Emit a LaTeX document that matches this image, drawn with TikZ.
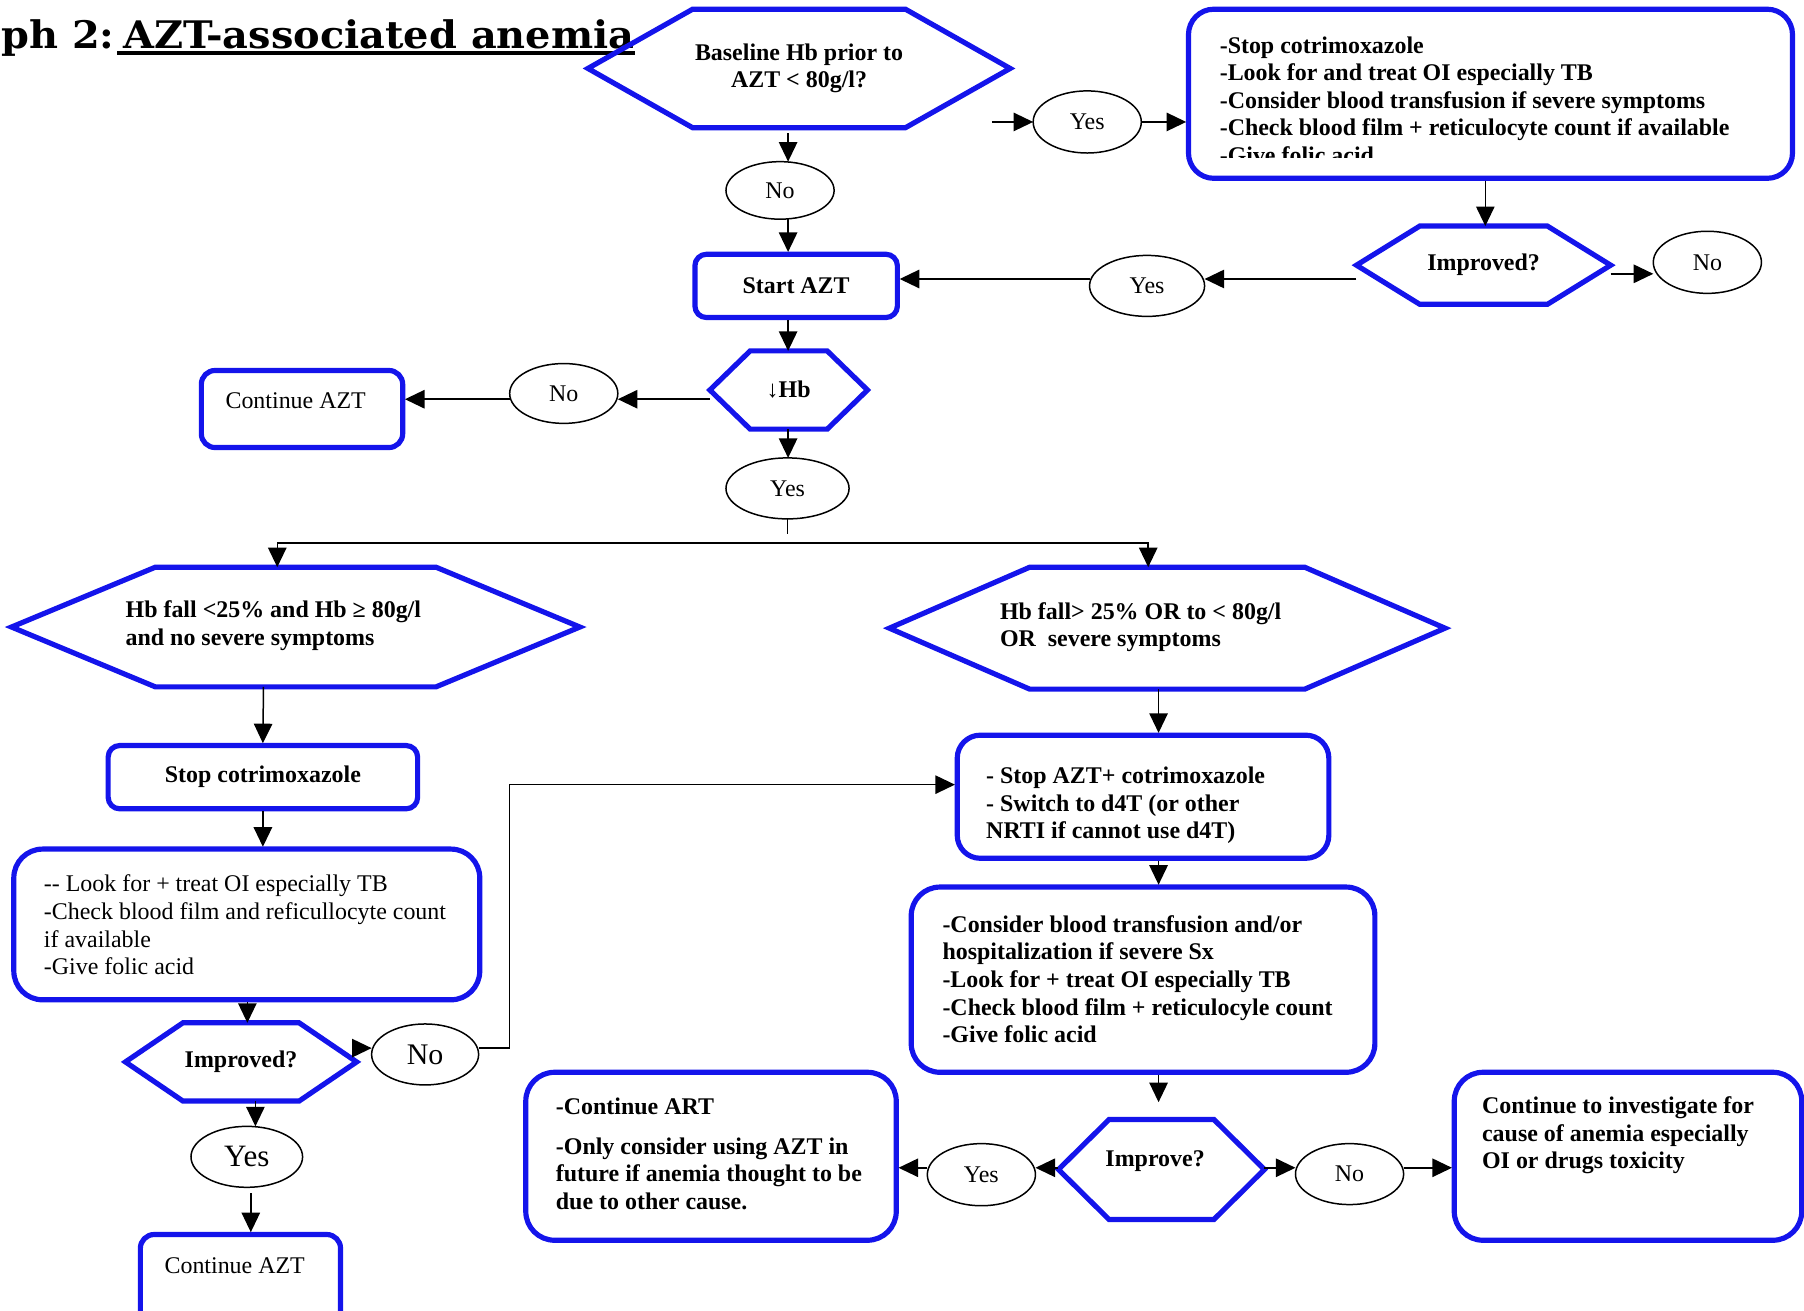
\documentclass[tikz,border=0pt]{standalone}
\usepackage{fontspec}
\setmainfont{Liberation Serif}
\newfontfamily\titlefont[FakeStretch=1.05]{DejaVu Serif}
\usetikzlibrary{arrows.meta,shapes.geometric}
\definecolor{bl}{RGB}{20,20,235}
\newcommand\hexdraw[2]{%
  \draw[hexline] (#1.west) -- ([xshift=#2pt]#1.north west) -- ([xshift=-#2pt]#1.north east) -- (#1.east) -- ([xshift=-#2pt]#1.south east) -- ([xshift=#2pt]#1.south west) -- cycle;}
\tikzset{
 hexline/.style={draw=bl, line width=4.5pt, line join=miter},
 hexnode/.style={shape=rectangle, draw=none, inner sep=0pt, outer sep=0pt, font=\fontsize{20.8}{24}\selectfont\bfseries, align=center},
 rbox/.style={shape=rectangle, draw=bl, line width=4.5pt, inner sep=0pt, outer sep=2pt},
 ell/.style={shape=ellipse, draw=black, line width=1.3pt, inner sep=0pt, outer sep=0pt, font=\fontsize{20.8}{24}\selectfont},
 btxt/.style={font=\fontsize{20.8}{24}\selectfont\bfseries, inner sep=0pt, align=left},
 rtxt/.style={font=\fontsize{20.8}{24}\selectfont, inner sep=0pt, align=left},
 arr/.style={draw=black, line width=1.3pt, -{Triangle[length=17pt,width=16pt]}},
 conn/.style={draw=black, line width=1.3pt},
 ttl/.style={font=\titlefont\fontsize{33}{38}\selectfont\bfseries, inner sep=0pt},
}
\begin{document}
\begin{tikzpicture}[x=1pt,y=-1pt]
\useasboundingbox (0,0) rectangle (1568,1139);
\clip (0,0) rectangle (1568,1139);
% title
\node[ttl, anchor=base west] (tA) at (1,42) {ph 2:};
\node[ttl, anchor=base west] (tB) at (107,42) {AZT-associated anemia};
\draw[line width=2.8pt] ([yshift=-4pt,xshift=2pt]tA.base east) -- ([yshift=-4pt]tB.base east);
% top hexagon
\node[hexnode, minimum width=367pt, minimum height=103pt] (h1) at (694.5,59.5) {Baseline Hb prior to\\AZT < 80g/l?};
\hexdraw{h1}{91}
\node[ell, minimum width=94pt, minimum height=50pt] (no1) at (678,165.5) {No};
\node[rbox, minimum width=176pt, minimum height=55pt, rounded corners=10pt, font=\fontsize{20.8}{24}\selectfont\bfseries] (start) at (692,248.5) {Start AZT};
\draw[arr, shorten <=5pt] (685,0 |- h1.south) -- (685,0 |- no1.north);
\draw[arr] (685,0 |- no1.south) -- (685,0 |- start.north);
% top right
\node[ell, minimum width=94pt, minimum height=54pt] (yes1) at (945,106) {Yes};
\node[rbox, minimum width=525pt, minimum height=147pt, rounded corners=22pt] (trbox) at (1295.5,81.5) {};
\begin{scope}
\clip (1036,10) rectangle (1555,136.5);
\node[btxt, anchor=west] (trt) at (1060,87) {-Stop cotrimoxazole\\-Look for and treat OI especially TB\\-Consider blood transfusion if severe symptoms\\-Check blood film + reticulocyte count if available\\-Give folic acid};
\end{scope}
\coordinate (c0) at (862,106);
\draw[arr] (c0) -- (yes1.west);
\draw[arr] (yes1.east) -- (trbox.west |- yes1.east);
\node[hexnode, minimum width=221pt, minimum height=68pt] (imp1) at (1289.5,230.5) {Improved?};
\hexdraw{imp1}{55}
\draw[arr] (1291,0 |- trbox.south) -- (1291,0 |- imp1.north);
\node[ell, minimum width=94pt, minimum height=54pt] (no2) at (1484,228) {No};
\draw[arr] (imp1.east |- 0,238) -- (no2.west |- 0,238);
\node[ell, minimum width=100pt, minimum height=53pt] (yes2) at (997,248.5) {Yes};
\draw[arr] (imp1.west |- 0,242.5) -- (yes2.east |- 0,242.5);
\draw[arr] (yes2.west |- 0,242.5) -- (start.east |- 0,242.5);
% down Hb
\node[hexnode, minimum width=137pt, minimum height=68pt] (hb) at (685.5,339) {↓Hb};
\hexdraw{hb}{35}
\draw[arr] (685,0 |- start.south) -- (685,0 |- hb.north);
\node[ell, minimum width=94pt, minimum height=52pt] (no3) at (490,342) {No};
\node[rbox, minimum width=175pt, minimum height=67pt, rounded corners=12pt] (cont1) at (262.5,355.5) {};
\node[rtxt] (cont1t) at (257,348) {Continue AZT};
\draw[arr] (hb.west |- 0,347) -- (no3.east |- 0,347);
\draw[arr] (no3.west |- 0,347) -- (cont1.east |- 0,347);
\node[ell, minimum width=107pt, minimum height=53pt] (yes3) at (684.5,424.5) {Yes};
\draw[arr] (685,0 |- hb.south) -- (685,0 |- yes3.north);
\draw[conn] (yes3.south) -- (yes3.south |- 0,464);
% two branches
\node[hexnode, minimum width=494pt, minimum height=104pt] (hL) at (257,545) {};
\hexdraw{hL}{125}
\node[btxt, anchor=west] (hLt) at (109,544) {Hb fall <25\% and Hb ≥ 80g/l\\and no severe symptoms};
\node[hexnode, minimum width=483pt, minimum height=106pt] (hR) at (1014.5,546) {};
\hexdraw{hR}{122}
\node[btxt, anchor=west] (hRt) at (869,545) {Hb fall> 25\% OR to < 80g/l\\OR\ \ severe symptoms};
\draw[arr] (yes3.south |- 0,472) -| (241,0 |- hL.north);
\draw[arr] (yes3.south |- 0,472) -| (998,0 |- hR.north);
% left branch
\node[rbox, minimum width=269pt, minimum height=55pt, rounded corners=10pt, font=\fontsize{20.8}{24}\selectfont\bfseries] (stop) at (228.5,675.5) {Stop cotrimoxazole};
\draw[arr] (229,0 |- hL.south) -- (stop.north);
\node[rbox, minimum width=405pt, minimum height=131pt, rounded corners=25pt] (L2) at (214.5,803.5) {};
\node[rtxt, anchor=west] (L2t) at (38,804) {-{}- Look for + treat OI especially TB\\-Check blood film and reficullocyte count\\if available\\-Give folic acid};
\draw[arr] (stop.south) -- (stop.south |- L2.north);
\node[hexnode, minimum width=201pt, minimum height=68pt] (impL) at (209.5,923) {Improved?};
\hexdraw{impL}{50}
\draw[arr] (215,0 |- L2.south) -- (215,0 |- impL.north);
\node[ell, minimum width=93pt, minimum height=53pt, font=\fontsize{26}{30}\selectfont] (no4) at (369.5,916.5) {No};
\draw[arr] (impL.east |- 0,911) -- (no4.west |- 0,911);
\node[ell, minimum width=97pt, minimum height=53pt, font=\fontsize{27}{30}\selectfont] (yes4) at (214.5,1005.5) {Yes};
\draw[arr] (222,0 |- impL.south) -- (222,0 |- yes4.north);
\node[rbox, minimum width=174pt, minimum height=80pt, rounded corners=12pt] (cont2) at (209,1113) {};
\node[rtxt] (cont2t) at (204,1100) {Continue AZT};
\draw[arr, shorten <=5pt] (218,0 |- yes4.south) -- (218,0 |- cont2.north);
% right branch
\node[rbox, minimum width=323pt, minimum height=107pt, rounded corners=20pt] (R1) at (993.5,692.5) {};
\node[btxt, anchor=west] (R1t) at (857,700) {- Stop AZT+ cotrimoxazole\\- Switch to d4T (or other\\NRTI if cannot use d4T)};
\draw[arr] (1007,0 |- hR.south) -- (1007,0 |- R1.north);
\coordinate (bend) at (443,682);
\draw[arr] (no4.east |- 0,911) -| (bend) -- (R1.west |- bend);
\node[rbox, minimum width=403pt, minimum height=161pt, rounded corners=25pt] (R2) at (993.5,851.5) {};
\node[btxt, anchor=west] (R2t) at (819,851) {-Consider blood transfusion and/or\\hospitalization if severe Sx\\-Look for + treat OI especially TB\\-Check blood film + reticulocyle count\\-Give folic acid};
\draw[arr] (1007,0 |- R1.south) -- (1007,0 |- R2.north);
\node[hexnode, minimum width=179pt, minimum height=87pt] (imp2) at (1009.5,1016.5) {};
\hexdraw{imp2}{44}
\node[btxt] (imp2t) at (1004,1009) {Improve?};
\draw[arr, shorten >=15pt] (1007,0 |- R2.south) -- (1007,0 |- imp2.north);
\node[ell, minimum width=94pt, minimum height=54pt] (yes5) at (853,1021) {Yes};
\node[rbox, minimum width=322pt, minimum height=146pt, rounded corners=25pt] (BL) at (618,1005) {};
\node[btxt, anchor=west] (BLt) at (483,1003) {-Continue ART\\[10pt]-Only consider using AZT in\\future if anemia thought to be\\due to other cause.};
\draw[arr] (imp2.west |- 0,1015) -- (yes5.east |- 0,1015);
\draw[arr] (yes5.west |- 0,1015) -- (BL.east |- 0,1015);
\node[ell, minimum width=94pt, minimum height=53pt] (no5) at (1173,1020.5) {No};
\node[rbox, minimum width=302pt, minimum height=146pt, rounded corners=25pt] (BR) at (1415,1005) {};
\node[btxt, anchor=west] (BRt) at (1288,987) {Continue to investigate for\\cause of anemia especially\\OI or drugs toxicity};
\draw[arr] (imp2.east |- 0,1015) -- (no5.west |- 0,1015);
\draw[arr] (no5.east |- 0,1015) -- (BR.west |- 0,1015);
\end{tikzpicture}
\end{document}
